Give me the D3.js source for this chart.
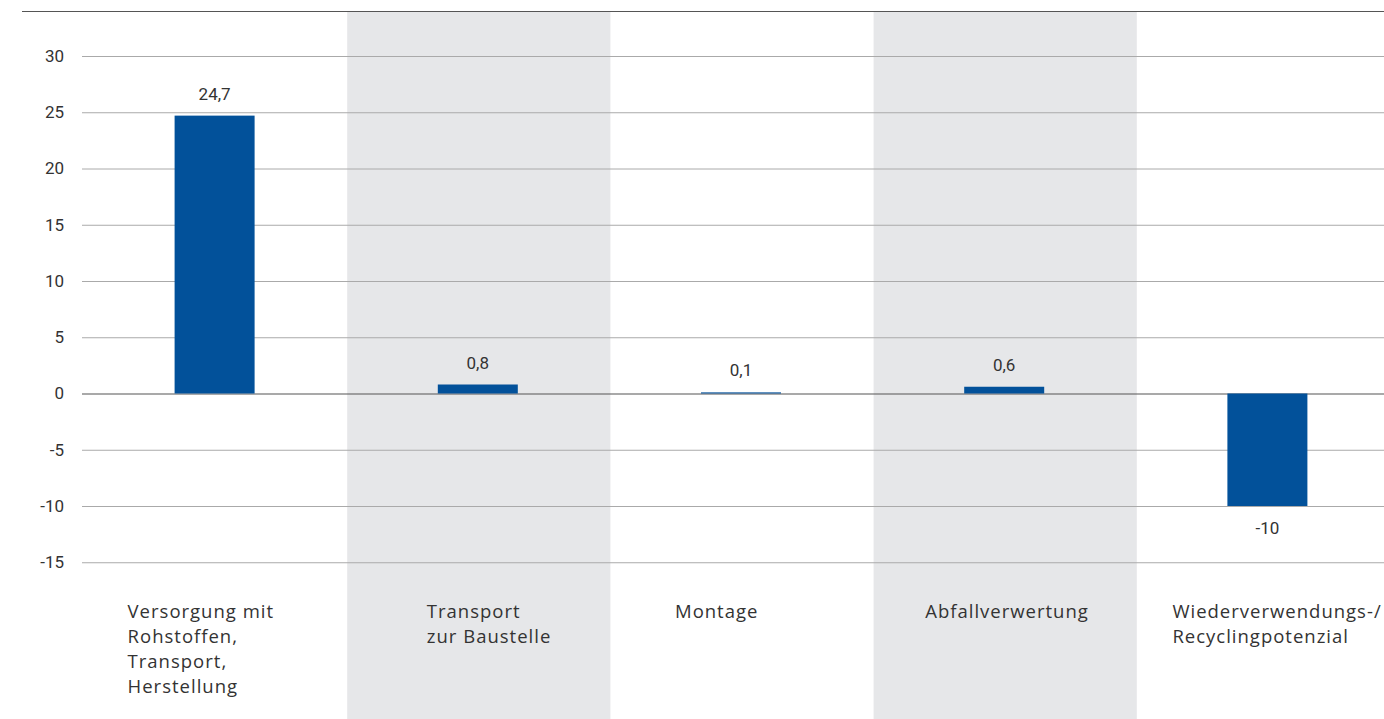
<!DOCTYPE html>
<html><head><meta charset="utf-8">
<script src="https://cdn.jsdelivr.net/npm/d3@7"></script>
<style>body{margin:0;background:#fff;}svg{display:block;}</style>
</head><body>
<svg id="chart" width="1384" height="719"></svg>
<script>
const categories = [
  ["Versorgung mit","Rohstoffen,","Transport,","Herstellung"],
  ["Transport","zur Baustelle"],
  ["Montage"],
  ["Abfallverwertung"],
  ["Wiederverwendungs-/","Recyclingpotenzial"]
];
const values = [24.7, 0.8, 0.1, 0.6, -10];
const valueLabels = ["24,7", "0,8", "0,1", "0,6", "-10"];
const yTicks = [30, 25, 20, 15, 10, 5, 0, -5, -10, -15];
const shaded = [false, true, false, true, false];

const labelShift = [-88, -52, -67, -80, -96];

const svg = d3.select("#chart");
const W = 1384, H = 719;
const x = d3.scaleBand().domain(d3.range(values.length)).range([84, 1400]).padding(0);
const y = d3.scaleLinear().domain([-15, 30]).range([562.25, 56]);
const barW = 80;

svg.selectAll("rect.band").data(d3.range(values.length).filter(i => shaded[i]))
  .join("rect").attr("x", i => x(i)).attr("width", x.bandwidth())
  .attr("y", 11).attr("height", H - 11).attr("fill", "#e6e7e9");

svg.append("line").attr("x1", 22).attr("x2", W).attr("y1", 11.5).attr("y2", 11.5)
  .attr("stroke", "#555").attr("stroke-width", 1.2);

const yAxis = d3.axisLeft(y).tickValues(yTicks).tickSize(-(W - 82)).tickFormat(d => d);
const g = svg.append("g").attr("transform", "translate(82,0)").call(yAxis);
g.select(".domain").remove();
g.selectAll(".tick line").attr("stroke", d => d === 0 ? "#555" : "#aaa").attr("stroke-width", d => d === 0 ? 1.2 : 1);
g.selectAll(".tick text").attr("x", -18).attr("fill", "#333")
  .style("font-family", "Roboto, 'DejaVu Sans', sans-serif").style("font-size", "17px");

svg.selectAll("rect.bar").data(values).join("rect")
  .attr("x", (d, i) => x(i) + x.bandwidth() / 2 - barW / 2 - 1)
  .attr("width", barW)
  .attr("y", d => y(Math.max(0, d)))
  .attr("height", d => Math.abs(y(d) - y(0)))
  .attr("fill", "#02519a");

svg.selectAll("text.val").data(values).join("text")
  .attr("x", (d, i) => x(i) + x.bandwidth() / 2 - 1)
  .attr("y", d => d >= 0 ? y(d) - 16 : y(d) + 28)
  .attr("text-anchor", "middle").attr("fill", "#333")
  .style("font-family", "Roboto, 'DejaVu Sans', sans-serif").style("font-size", "17px")
  .text((d, i) => valueLabels[i]);

const cl = svg.selectAll("text.cat").data(categories).join("text")
  .attr("x", (d, i) => x(i) + x.bandwidth() / 2 + labelShift[i])
  .attr("y", 618).attr("fill", "#333")
  .style("font-family", "'Open Sans', Lato, sans-serif").style("font-size", "18.5px")
  .style("letter-spacing", "1px");
cl.each(function(lines, i) {
  d3.select(this).selectAll("tspan").data(lines).join("tspan")
    .attr("x", x(i) + x.bandwidth() / 2 + labelShift[i])
    .attr("dy", (d, j) => j === 0 ? 0 : 25).text(d => d);
});
</script>
</body></html>
